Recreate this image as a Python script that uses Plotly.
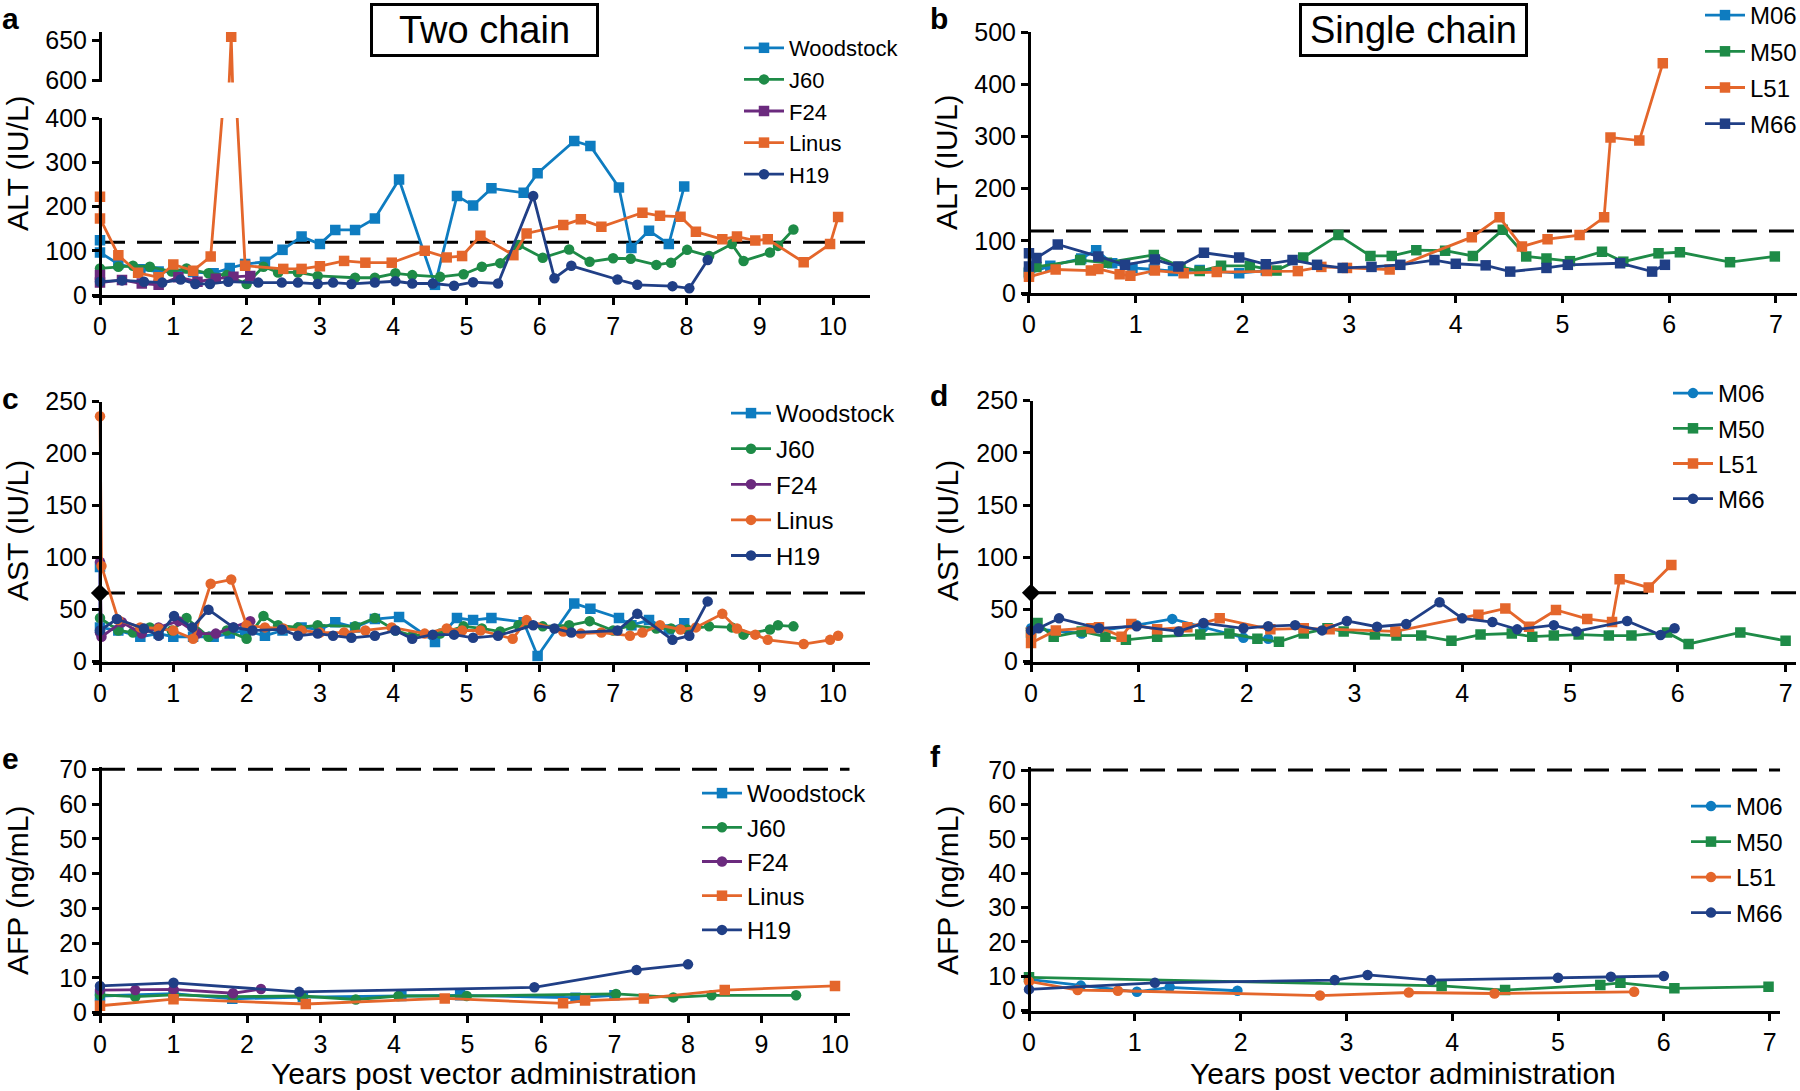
import plotly.graph_objects as go

W, H = 1800, 1091
FONT = "Liberation Sans, Arial, Helvetica, sans-serif"

# colours
C_LB = "#0E7CC0"
C_GR = "#1E8B47"
C_PU = "#6B2A7E"
C_OR = "#E4662B"
C_NV = "#203F86"

ALT_ULN = 119
AST_ULN = 66
AFP_ULN = 70

# ---------------- panel a (ALT, two chain) ----------------
WOOD_A_X = [0, 0, 0.25, 0.55, 0.8, 1.27, 1.55, 1.77, 1.98, 2.25, 2.49, 2.75, 3.0, 3.21, 3.48, 3.75, 4.08, 4.57,
            4.87, 5.09, 5.34, 5.78, 5.97, 6.47, 6.69, 7.08, 7.25, 7.49, 7.76, 7.97]
WOOD_A_Y = [124, 96, 70, 58, 53, 52, 49, 61, 70, 75, 102, 132, 115, 147, 147, 173, 261, 23,
            224, 202, 241, 231, 275, 348, 337, 243, 106, 145, 115, 245]
J60_X = [0, 0.25, 0.45, 0.68, 0.98, 1.18, 1.48, 1.73, 2.0, 2.23, 2.43, 2.7, 2.97, 3.48, 3.75, 4.03, 4.26, 4.64,
         4.96, 5.21, 5.46, 5.71, 6.04, 6.4, 6.68, 7.0, 7.24, 7.59, 7.79, 8.01, 8.31, 8.62, 8.78, 9.14, 9.25, 9.46]
J60_A_Y = [60, 64, 66, 64, 53, 60, 49, 45, 25, 64, 51, 51, 43, 39, 39, 49, 45, 41,
           47, 64, 72, 113, 84, 103, 75, 83, 82, 68, 73, 102, 88, 115, 77, 96, 111, 148]
F24_A_X = [0, 0, 0.3, 0.57, 0.8, 1.07, 1.33, 1.58, 1.82, 2.05]
F24_A_Y = [45, 28, 34, 26, 23, 40, 30, 37, 41, 43]
LINUS_A_X = [0, 0, 0.25, 0.52, 0.8, 1.0, 1.27, 1.51, 1.79, 1.98, 2.5, 2.75, 3.0, 3.33, 3.62, 3.98, 4.43, 4.73,
             4.94, 5.19, 5.64, 5.82, 6.32, 6.56, 6.84, 7.4, 7.64, 7.92, 8.13, 8.49, 8.69, 8.94, 9.11, 9.6, 9.96, 10.07]
LINUS_A_Y = [222, 173, 90, 50, 40, 69, 55, 87, 654, 66, 59, 59, 65, 77, 73, 73, 100, 85,
             88, 134, 90, 139, 158, 171, 154, 186, 179, 177, 143, 126, 132, 123, 126, 74, 115, 176]
H19_A_X = [0, 0.3, 0.6, 0.85, 1.1, 1.3, 1.5, 1.75, 2.16, 2.48, 2.7, 2.97, 3.18, 3.43, 3.75, 4.03, 4.26, 4.54,
           4.83, 5.09, 5.43, 5.91, 6.2, 6.43, 7.06, 7.33, 7.81, 8.04, 8.29]
H19_A_Y = [30, 33, 30, 28, 35, 25, 25, 30, 28, 28, 28, 25, 28, 25, 28, 31, 26, 26,
           21, 29, 26, 224, 38, 66, 35, 23, 20, 15, 79]

# ---------------- panel b (ALT, single chain) ----------------
M06_B_X = [0, 0.2, 0.49, 0.63, 0.78, 0.97, 1.17, 1.35, 1.6, 1.97, 2.22]
M06_B_Y = [38, 52, 66, 82, 57, 48, 45, 42, 44, 38, 43]
M50_B_X = [0, 0.07, 0.48, 0.73, 1.17, 1.42, 1.6, 1.8, 2.07, 2.32, 2.57, 2.9, 3.2, 3.4, 3.63, 3.9, 4.16, 4.44,
           4.66, 4.85, 5.07, 5.37, 5.57, 5.9, 6.1, 6.57, 6.99]
M50_B_Y = [40, 50, 63, 58, 73, 50, 42, 52, 52, 43, 68, 111, 71, 71, 82, 81, 71, 121,
           70, 66, 61, 79, 60, 76, 78, 59, 70]
L51_B_X = [0, 0.25, 0.58, 0.65, 0.85, 0.95, 1.18, 1.45, 1.76, 2.23, 2.52, 2.74, 2.98, 3.38, 4.15, 4.41, 4.62,
           4.86, 5.16, 5.39, 5.45, 5.72, 5.94]
L51_B_Y = [31, 45, 43, 46, 36, 33, 43, 38, 40, 42, 42, 50, 48, 45, 107, 145, 89, 103, 111, 145, 298, 292, 440]
M66_B_X = [0, 0, 0.07, 0.27, 0.65, 0.9, 1.18, 1.4, 1.64, 1.97, 2.22, 2.47, 2.7, 2.94, 3.21, 3.48, 3.8, 4.0,
           4.28, 4.51, 4.85, 5.05, 5.54, 5.84, 5.96]
M66_B_Y = [76, 51, 67, 93, 70, 54, 64, 51, 77, 68, 55, 63, 54, 48, 50, 54, 63, 56, 53, 41, 48, 54, 57, 41, 54]

# ---------------- panel c (AST, two chain) ----------------
WOOD_C_X = [0, 0, 0.25, 0.55, 0.8, 1.0, 1.27, 1.55, 1.77, 1.98, 2.25, 2.49, 2.75, 3.0, 3.21, 3.48, 3.75, 4.08,
            4.57, 4.87, 5.09, 5.34, 5.78, 5.97, 6.47, 6.69, 7.08, 7.25, 7.49, 7.76, 7.97]
WOOD_C_Y = [91, 33, 30, 24, 27, 24, 24, 24, 27, 30, 25, 30, 33, 31, 38, 33, 41, 43,
            19, 42, 40, 42, 38, 5.5, 56, 51, 42, 35, 40, 31, 37]
J60_C_Y = [42, 30, 28, 33, 30, 42, 24, 30, 22, 44, 35, 33, 35, 34, 42, 30, 25, 27,
           34, 32, 29, 35, 34, 35, 39, 30, 35, 32, 32, 31, 34, 33, 26, 31, 35, 34]
F24_C_X = [0, 0, 0.02, 0.3, 0.57, 0.8, 1.07, 1.33, 1.58, 1.82, 2.05]
F24_C_Y = [28, 96, 24, 38, 27, 33, 39, 27, 27, 33, 39]
LINUS_C_X = [0, 0.02, 0.25, 0.55, 0.8, 1.0, 1.27, 1.51, 1.79, 2.0, 2.25, 2.5, 2.75, 3.0, 3.33, 3.62, 3.98, 4.43,
             4.73, 4.94, 5.19, 5.63, 5.82, 6.32, 6.56, 6.84, 7.23, 7.4, 7.64, 7.92, 8.13, 8.49, 8.69, 8.94, 9.11,
             9.6, 9.96, 10.07]
LINUS_C_Y = [236, 92, 40, 33, 32, 30, 22, 75, 79, 35, 33, 32, 30, 28, 28, 30, 33, 27,
             32, 30, 30, 22, 40, 29, 27, 28, 25, 28, 35, 31, 33, 46, 32, 26, 21, 17, 21, 25]
H19_C_X = [0, 0.23, 0.6, 0.8, 1.01, 1.26, 1.48, 1.82, 2.08, 2.48, 2.7, 2.97, 3.18, 3.43, 3.75, 4.03, 4.26, 4.54,
           4.83, 5.09, 5.43, 5.91, 6.2, 6.43, 7.06, 7.33, 7.81, 8.04, 8.29]
H19_C_Y = [30, 41, 32, 25, 44, 33, 50, 33, 30, 31, 25, 27, 25, 23, 25, 30, 22, 26,
           26, 23, 25, 35, 32, 28, 30, 46, 21, 25, 58]

# ---------------- panel d (AST, single chain) ----------------
M06_D_X = [0, 0.47, 0.98, 1.31, 1.6, 1.97, 2.2]
M06_D_Y = [32, 27, 35, 41, 33, 23, 22]
M50_D_X = [0, 0.06, 0.21, 0.47, 0.69, 0.88, 1.17, 1.57, 1.84, 2.1, 2.3, 2.53, 2.75, 2.9, 3.19, 3.39, 3.62, 3.9,
           4.17, 4.46, 4.65, 4.85, 5.08, 5.36, 5.57, 5.9, 6.1, 6.58, 7.0]
M50_D_Y = [28, 37, 24, 29, 24, 21, 24, 26, 27, 22, 19, 27, 32, 29, 26, 25, 25, 20,
           26, 27, 24, 25, 26, 25, 25, 28, 17, 28, 20]
L51_D_X = [0, 0, 0.23, 0.56, 0.63, 0.84, 0.93, 1.17, 1.45, 1.75, 2.22, 2.53, 2.77, 3.38, 4.15, 4.4, 4.62, 4.87,
           5.16, 5.39, 5.46, 5.73, 5.94]
L51_D_Y = [28, 18, 30, 32, 33, 24, 36, 31, 33, 41.5, 31, 32, 31, 29, 45, 51, 33.5, 49.5, 41, 38, 79, 71, 92.6]
M66_D_X = [0, 0.07, 0.26, 0.63, 0.98, 1.37, 1.6, 1.97, 2.2, 2.45, 2.7, 2.93, 3.21, 3.48, 3.79, 4.0, 4.28, 4.51,
           4.85, 5.06, 5.53, 5.84, 5.97]
M66_D_Y = [30, 32, 41.5, 32, 34, 29, 37, 32, 34, 35, 30, 39, 33.5, 36, 57, 41.5, 38, 31, 35, 29, 39, 25.5, 32]

# ---------------- panel e (AFP, two chain) ----------------
WOOD_E_X = [0, 1.0, 1.8, 2.76, 4.1, 4.9, 6.47, 7.0]
WOOD_E_Y = [4.8, 5.5, 4.0, 4.5, 4.8, 5.0, 4.3, 5.0]
J60_E_X = [0, 0.48, 1.0, 1.81, 2.74, 3.48, 4.06, 4.99, 7.02, 7.8, 8.32, 9.47]
J60_E_Y = [5.1, 4.6, 5.1, 4.6, 4.8, 3.8, 4.8, 4.8, 5.4, 4.4, 5.0, 5.0]
F24_E_X = [0, 0.48, 1.0, 1.81, 2.19]
F24_E_Y = [6.5, 6.5, 6.7, 5.6, 6.8]
LINUS_E_X = [0, 1.0, 2.8, 4.69, 6.3, 6.6, 7.4, 8.5, 10.0]
LINUS_E_Y = [2.0, 3.9, 2.5, 4.1, 2.7, 3.5, 4.1, 6.5, 7.7]
H19_E_X = [0, 1.0, 2.71, 5.91, 7.3, 8.0]
H19_E_Y = [7.7, 8.6, 6.0, 7.3, 12.3, 13.9]

# ---------------- panel f (AFP, single chain) ----------------
M06_F_X = [0, 0.49, 1.02, 1.33, 1.97]
M06_F_Y = [9.1, 7.3, 5.5, 6.8, 5.8]
M50_F_X = [0, 3.9, 4.5, 5.4, 5.59, 6.1, 6.99]
M50_F_Y = [9.7, 7.2, 6.0, 7.5, 8.1, 6.5, 7.0]
L51_F_X = [0, 0.46, 0.84, 2.75, 3.59, 4.4, 5.72]
L51_F_Y = [8.5, 6.0, 5.8, 4.4, 5.3, 5.0, 5.5]
M66_F_X = [0, 1.19, 2.89, 3.2, 3.8, 5.0, 5.5, 6.0]
M66_F_Y = [6.2, 8.1, 8.9, 10.4, 8.9, 9.6, 9.9, 10.1]

X_TICKS_10 = list(range(0, 11))
X_TICKS_7 = list(range(0, 8))
ALT_TICKS = [0, 100, 200, 300, 400]
ALT_TICKS_HI = [600, 650]
ALT_TICKS_B = [0, 100, 200, 300, 400, 500]
AST_TICKS = [0, 50, 100, 150, 200, 250]
AFP_TICKS = [0, 10, 20, 30, 40, 50, 60, 70]

fig = go.Figure()


def add(x, y, name, color, symbol, xa, ya, legend, show=True, group=None):
    fig.add_trace(go.Scatter(
        x=x, y=y, name=name, mode="lines+markers",
        line=dict(color=color, width=2.8),
        marker=dict(symbol=symbol, size=10.5, color=color, line=dict(width=0)),
        xaxis=xa, yaxis=ya, legend=legend, showlegend=show,
        legendgroup=group or (legend + name)))


def uln(xmax, val, xa, ya):
    fig.add_trace(go.Scatter(x=[0, xmax], y=[val, val], mode="lines",
                             line=dict(color="black", width=3, dash="25px,12px"),
                             xaxis=xa, yaxis=ya, showlegend=False, hoverinfo="skip"))


def diamond(val, xa, ya):
    fig.add_trace(go.Scatter(x=[0], y=[val], mode="markers",
                             marker=dict(symbol="diamond", size=14, color="black"),
                             xaxis=xa, yaxis=ya, showlegend=False, cliponaxis=False, hoverinfo="skip"))


# panel a
uln(10.5, ALT_ULN, "x", "y")
add(WOOD_A_X, WOOD_A_Y, "Woodstock", C_LB, "square", "x", "y", "legend")
add(J60_X, J60_A_Y, "J60", C_GR, "circle", "x", "y", "legend")
add(F24_A_X, F24_A_Y, "F24", C_PU, "square", "x", "y", "legend")
add(LINUS_A_X, LINUS_A_Y, "Linus", C_OR, "square", "x", "y", "legend")
add(LINUS_A_X, LINUS_A_Y, "Linus", C_OR, "square", "x", "y2", "legend", show=False, group="legendLinus")
add(H19_A_X, H19_A_Y, "H19", C_NV, "circle", "x", "y", "legend")

# panel b
uln(7.2, ALT_ULN, "x2", "y3")
add(M06_B_X, M06_B_Y, "M06", C_LB, "square", "x2", "y3", "legend2")
add(M50_B_X, M50_B_Y, "M50", C_GR, "square", "x2", "y3", "legend2")
add(L51_B_X, L51_B_Y, "L51", C_OR, "square", "x2", "y3", "legend2")
add(M66_B_X, M66_B_Y, "M66", C_NV, "square", "x2", "y3", "legend2")

# panel c
uln(10.5, AST_ULN, "x3", "y4")
add(WOOD_C_X, WOOD_C_Y, "Woodstock", C_LB, "square", "x3", "y4", "legend3")
add(J60_X, J60_C_Y, "J60", C_GR, "circle", "x3", "y4", "legend3")
add(F24_C_X, F24_C_Y, "F24", C_PU, "circle", "x3", "y4", "legend3")
add(LINUS_C_X, LINUS_C_Y, "Linus", C_OR, "circle", "x3", "y4", "legend3")
add(H19_C_X, H19_C_Y, "H19", C_NV, "circle", "x3", "y4", "legend3")
diamond(AST_ULN, "x3", "y4")

# panel d
uln(7.1, AST_ULN, "x4", "y5")
add(M06_D_X, M06_D_Y, "M06", C_LB, "circle", "x4", "y5", "legend4")
add(M50_D_X, M50_D_Y, "M50", C_GR, "square", "x4", "y5", "legend4")
add(L51_D_X, L51_D_Y, "L51", C_OR, "square", "x4", "y5", "legend4")
add(M66_D_X, M66_D_Y, "M66", C_NV, "circle", "x4", "y5", "legend4")
diamond(AST_ULN, "x4", "y5")

# panel e
uln(10.2, AFP_ULN, "x5", "y6")
add(WOOD_E_X, WOOD_E_Y, "Woodstock", C_LB, "square", "x5", "y6", "legend5")
add(J60_E_X, J60_E_Y, "J60", C_GR, "circle", "x5", "y6", "legend5")
add(F24_E_X, F24_E_Y, "F24", C_PU, "circle", "x5", "y6", "legend5")
add(LINUS_E_X, LINUS_E_Y, "Linus", C_OR, "square", "x5", "y6", "legend5")
add(H19_E_X, H19_E_Y, "H19", C_NV, "circle", "x5", "y6", "legend5")

# panel f
uln(7.1, AFP_ULN, "x6", "y7")
add(M06_F_X, M06_F_Y, "M06", C_LB, "circle", "x6", "y7", "legend6")
add(M50_F_X, M50_F_Y, "M50", C_GR, "square", "x6", "y7", "legend6")
add(L51_F_X, L51_F_Y, "L51", C_OR, "circle", "x6", "y7", "legend6")
add(M66_F_X, M66_F_Y, "M66", C_NV, "circle", "x6", "y7", "legend6")


def common():
    return dict(showline=True, linecolor="black", linewidth=3, ticks="outside", ticklen=7, tickwidth=3,
                tickcolor="black", showgrid=False, zeroline=False,
                tickfont=dict(size=25, color="black", family=FONT))


def xax(l_px, r_px, rng, ticks, anchor):
    d = common()
    d.update(domain=[l_px / W, r_px / W], range=rng, tickvals=ticks, anchor=anchor)
    return d


def yax(bot_py, top_py, rng, ticks, pos_px):
    d = common()
    d.update(domain=[1 - bot_py / H, 1 - top_py / H], range=rng, tickvals=ticks, anchor="free",
             position=pos_px / W)
    return d


def leg(x_px, top_py, gap, size=24):
    return dict(x=x_px / W, y=1 - top_py / H, xanchor="left", yanchor="top", bgcolor="rgba(0,0,0,0)",
                borderwidth=0, font=dict(size=size, family=FONT, color="black"), traceorder="grouped",
                tracegroupgap=gap, itemwidth=40)


layout = dict(
    width=W, height=H, margin=dict(l=0, r=0, t=0, b=0, autoexpand=False),
    paper_bgcolor="white", plot_bgcolor="white", font=dict(family=FONT, color="black"),
    xaxis=xax(100 - 7.33, 100 + 10.5 * 73.3, [-0.1, 10.5], X_TICKS_10, "y"),
    yaxis=yax(295, 118, [0, 400], ALT_TICKS, 100),
    yaxis2=yax(82.4, 32, [597, 660], ALT_TICKS_HI, 100),
    xaxis2=xax(1029 - 7.5, 1029 + 7.2 * 106.7, [-0.07, 7.2], X_TICKS_7, "y3"),
    yaxis3=yax(293, 32, [0, 500], ALT_TICKS_B, 1029),
    xaxis3=xax(100 - 7.33, 100 + 10.5 * 73.3, [-0.1, 10.5], X_TICKS_10, "y4"),
    yaxis4=yax(661.7, 401.7, [0, 250], AST_TICKS, 100),
    xaxis4=xax(1031 - 7.5, 1031 + 7.1 * 107.8, [-0.07, 7.1], X_TICKS_7, "y5"),
    yaxis5=yax(661.7, 400.7, [0, 250], AST_TICKS, 1031),
    xaxis5=xax(100 - 7.35, 100 + 10.2 * 73.5, [-0.1, 10.2], X_TICKS_10, "y6"),
    yaxis6=yax(1012.7, 766.5, [0, 70.8], AFP_TICKS, 100),
    xaxis6=xax(1029 - 7.4, 1029 + 7.1 * 105.8, [-0.07, 7.1], X_TICKS_7, "y7"),
    yaxis7=yax(1010.7, 767.3, [0, 70.8], AFP_TICKS, 1029),
    legend=leg(739, 27, 0, size=22),
    legend2=leg(1700, -7, 2),
    legend3=leg(726, 391, 1.4),
    legend4=leg(1668, 371, 1),
    legend5=leg(697, 771, 0),
    legend6=leg(1686, 784, 1.3),
)
fig.update_layout(**layout)

ann = []
for txt, xp, yp in [("a", 0, 0), ("b", 928, 0), ("c", 0, 380), ("d", 928, 377), ("e", 0, 740), ("f", 928, 738)]:
    ann.append(dict(text="<b>%s</b>" % txt, x=xp / W, y=1 - yp / H, xref="paper", yref="paper",
                    xanchor="left", yanchor="top", showarrow=False, font=dict(size=30, family=FONT, color="black")))
for txt, xp, yp in [("ALT (IU/L)", 17, 163), ("ALT (IU/L)", 947, 162), ("AST (IU/L)", 17, 531),
                    ("AST (IU/L)", 947, 531), ("AFP (ng/mL)", 17, 890), ("AFP (ng/mL)", 947, 890)]:
    ann.append(dict(text=txt, x=xp / W, y=1 - yp / H, xref="paper", yref="paper", textangle=-90,
                    xanchor="center", yanchor="middle", showarrow=False,
                    font=dict(size=30, family=FONT, color="black")))
for xp in [484, 1403]:
    ann.append(dict(text="Years post vector administration", x=xp / W, y=1 - 1073 / H, xref="paper",
                    yref="paper", xanchor="center", yanchor="middle", showarrow=False,
                    font=dict(size=30, family=FONT, color="black")))
for txt, xp in [("Two chain", 484.5), ("Single chain", 1413.5)]:
    ann.append(dict(text=txt, x=xp / W, y=1 - 30.4 / H, xref="paper", yref="paper", xanchor="center",
                    yanchor="middle", showarrow=False, width=223, height=48, borderwidth=3, borderpad=0,
                    bordercolor="black", font=dict(size=38, family=FONT, color="black")))
fig.update_layout(annotations=ann)

fig.write_html("out.html", config={"displayModeBar": False},
               post_script="document.body.style.margin='0px';document.body.style.overflow='hidden';")
